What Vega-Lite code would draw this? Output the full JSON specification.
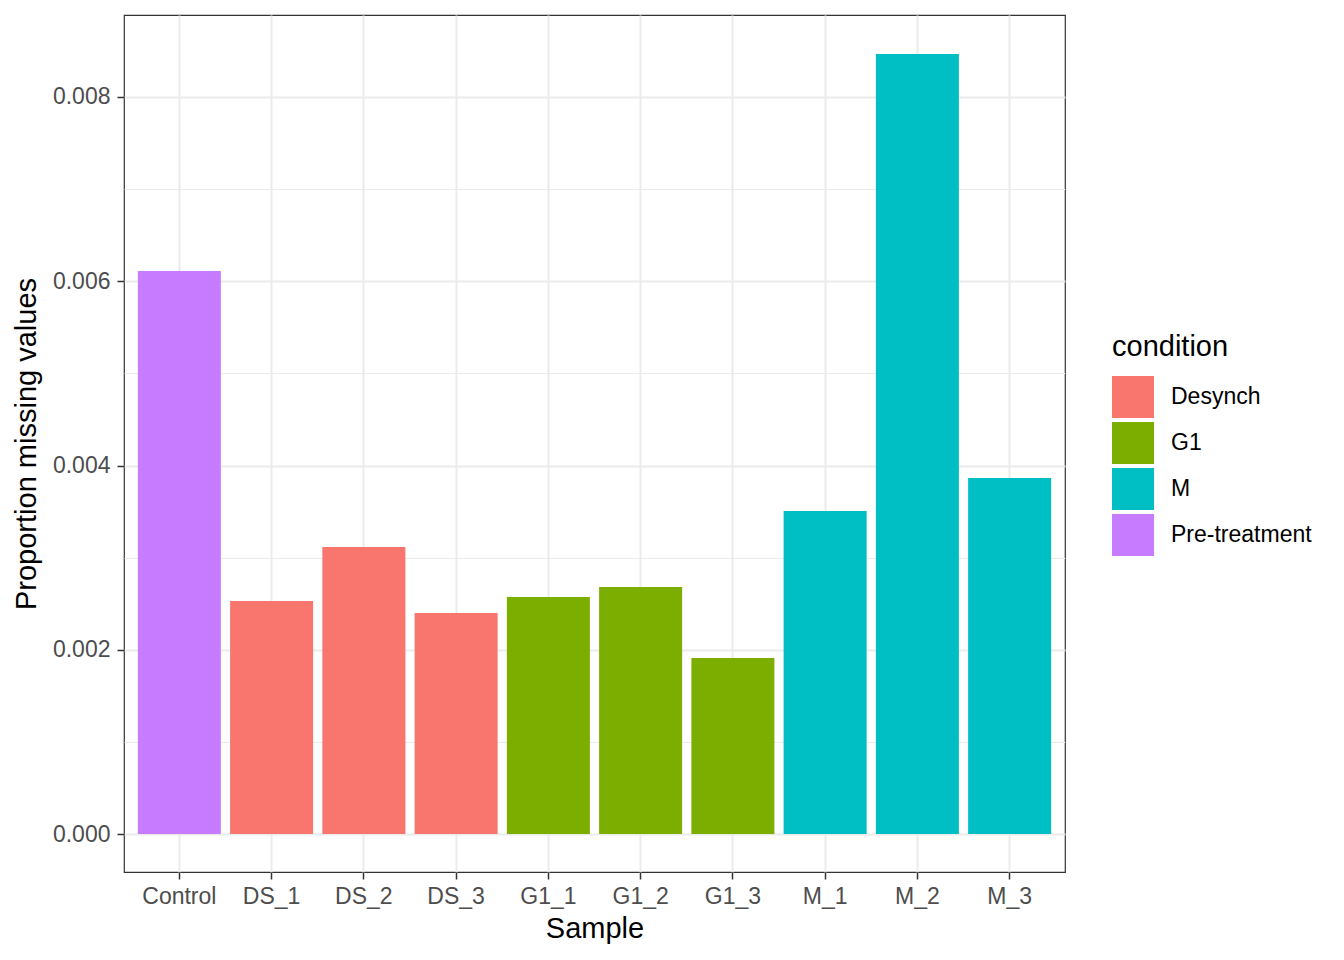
{
  "$schema": "https://vega.github.io/schema/vega-lite/v6.json",
  "width": 941,
  "height": 857,
  "autosize": {"type": "none"},
  "padding": {"left": 124, "top": 15, "right": 279, "bottom": 88},
  "background": "white",
  "config": {
    "font": "Liberation Sans",
    "view": {"stroke": "#333333", "strokeWidth": 1.2},
    "axis": {
      "domain": false,
      "labelFontSize": 23,
      "labelColor": "#4D4D4D",
      "tickColor": "#333333",
      "tickSize": 7,
      "tickWidth": 1.5,
      "gridColor": "#EBEBEB",
      "titleFontSize": 29,
      "titleFontWeight": "normal",
      "titleColor": "black"
    }
  },
  "data": {
    "values": [
      {"sample": "Control", "condition": "Pre-treatment", "prop": 0.006111},
      {"sample": "DS_1", "condition": "Desynch", "prop": 0.002529},
      {"sample": "DS_2", "condition": "Desynch", "prop": 0.003115},
      {"sample": "DS_3", "condition": "Desynch", "prop": 0.002399},
      {"sample": "G1_1", "condition": "G1", "prop": 0.002573},
      {"sample": "G1_2", "condition": "G1", "prop": 0.002681},
      {"sample": "G1_3", "condition": "G1", "prop": 0.00191},
      {"sample": "M_1", "condition": "M", "prop": 0.003506},
      {"sample": "M_2", "condition": "M", "prop": 0.008467},
      {"sample": "M_3", "condition": "M", "prop": 0.003864}
    ]
  },
  "mark": {"type": "bar"},
  "encoding": {
    "x": {
      "field": "sample",
      "type": "nominal",
      "sort": null,
      "title": "Sample",
      "scale": {"paddingInner": 0.1, "paddingOuter": 0.15},
      "axis": {
        "labelAngle": 0,
        "bandPosition": 0.5,
        "grid": true,
        "gridWidth": 2,
        "labelPadding": 6,
        "titlePadding": 6
      }
    },
    "y": {
      "field": "prop",
      "type": "quantitative",
      "title": "Proportion missing values",
      "scale": {"domain": [-0.000412, 0.00889], "nice": false, "zero": false},
      "axis": {
        "values": [0, 0.001, 0.002, 0.003, 0.004, 0.005, 0.006, 0.007, 0.008],
        "format": ".3f",
        "labelExpr": "round(datum.value * 1000) % 2 == 0 ? datum.label : ''",
        "tickOpacity": {"condition": {"test": "round(datum.value * 1000) % 2 == 1", "value": 0}, "value": 1},
        "gridWidth": {"condition": {"test": "round(datum.value * 1000) % 2 == 1", "value": 1}, "value": 2},
        "grid": true,
        "labelPadding": 7,
        "titlePadding": 11
      }
    },
    "color": {
      "field": "condition",
      "type": "nominal",
      "title": "condition",
      "scale": {
        "domain": ["Desynch", "G1", "M", "Pre-treatment"],
        "range": ["#F8766D", "#7CAE00", "#00BFC4", "#C77CFF"]
      },
      "legend": {
        "orient": "none",
        "legendX": 988,
        "legendY": 318,
        "padding": 0,
        "titleFontSize": 29,
        "titleFontWeight": "normal",
        "titleColor": "black",
        "titlePadding": 14,
        "labelFontSize": 23,
        "labelColor": "black",
        "labelOffset": 17,
        "symbolType": "square",
        "symbolSize": 1764,
        "symbolStrokeWidth": 0,
        "symbolOpacity": 1,
        "rowPadding": 4
      }
    }
  }
}
